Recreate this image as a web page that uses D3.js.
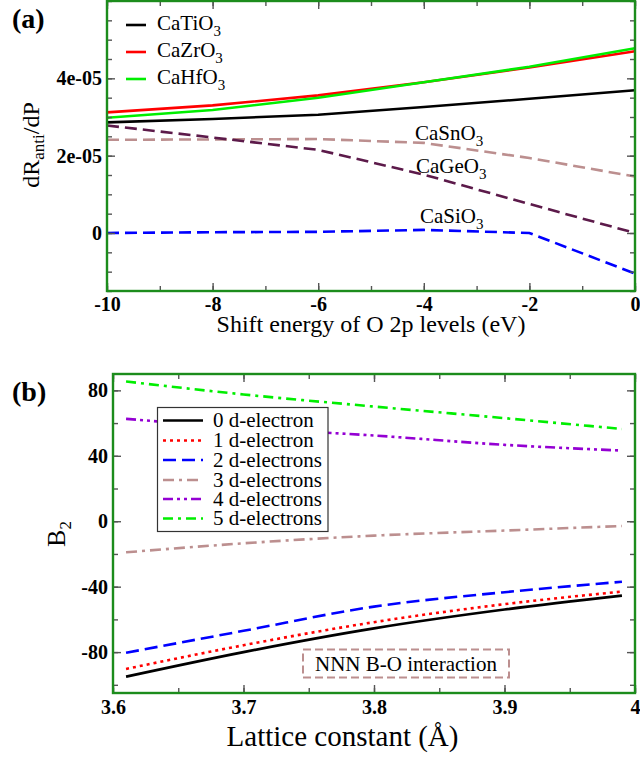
<!DOCTYPE html>
<html><head><meta charset="utf-8">
<script src="https://d3js.org/d3.v7.min.js"></script>
<style>body{margin:0;background:#fff}svg{display:block}</style>
</head><body><svg id="c" width="640" height="760"></svg>
<script>
// ---------- Panel (a) data ----------
const shiftEnergy = [-10, -8, -6, -4, -2, 0];
const caTiO3 = [2.86e-5, 2.95e-5, 3.06e-5, 3.26e-5, 3.47e-5, 3.69e-5];
const caZrO3 = [3.12e-5, 3.30e-5, 3.56e-5, 3.90e-5, 4.28e-5, 4.70e-5];
const caHfO3 = [2.98e-5, 3.18e-5, 3.50e-5, 3.90e-5, 4.30e-5, 4.78e-5];
const caSnO3 = [2.41e-5, 2.42e-5, 2.43e-5, 2.33e-5, 1.94e-5, 1.46e-5];
const caGeO3 = [2.78e-5, 2.47e-5, 2.15e-5, 1.51e-5, 0.75e-5, 0.0];
const caSiO3 = [0.0, 0.02e-5, 0.03e-5, 0.08e-5, 0.0, -1.05e-5];
const aXTicks = [-10, -8, -6, -4, -2, 0];
const aXTickLabels = ["-10", "-8", "-6", "-4", "-2", "0"];
const aYTicks = [0, 2e-5, 4e-5];
const aYTickLabels = ["0", "2e-05", "4e-05"];

// ---------- Panel (b) data ----------
const latticeConst = [3.61, 3.7, 3.8, 3.9, 3.99];
const dElec0 = [-95, -80, -65.5, -54, -45.5];
const dElec1 = [-90.3, -75.8, -61.7, -50.7, -43];
const dElec2 = [-80.4, -67, -52.2, -43.4, -37];
const dElec3 = [-19, -13.5, -8.8, -5.7, -2.9];
const dElec4 = [62.6, 57, 52.4, 46.7, 43.2];
const dElec5 = [85.4, 77.5, 70.1, 63, 56.4];
const bXTicks = [3.6, 3.7, 3.8, 3.9, 4.0];
const bXTickLabels = ["3.6", "3.7", "3.8", "3.9", "4"];
const bYTicks = [-80, -40, 0, 40, 80];
const bYTickLabels = ["-80", "-40", "0", "40", "80"];

const FONT = "Liberation Serif";
const svg = d3.select("#c");
const FRAME = "#1c8c1c";
const TICK = "#555";

function styleAxis(sel, labels) {
  sel.select(".domain").remove();
  sel.selectAll(".tick line").attr("stroke", TICK).attr("stroke-width", 1.4);
  sel.selectAll(".tick text").attr("fill", "#000").attr("font-size", 20)
     .attr("font-weight", "bold");
  if (!labels) sel.selectAll(".tick text").remove();
}

function frame(g, x, y, w, h, o) {
  const xm = x.ticks(o.xMinor), ym = y.ticks(o.yMinor);
  g.append("g").attr("transform", `translate(0,${h})`).call(d3.axisBottom(x).tickValues(xm).tickSize(-5)).call(s => styleAxis(s, false));
  g.append("g").call(d3.axisTop(x).tickValues(xm).tickSize(-5)).call(s => styleAxis(s, false));
  g.append("g").call(d3.axisLeft(y).tickValues(ym).tickSize(-5)).call(s => styleAxis(s, false));
  g.append("g").attr("transform", `translate(${w},0)`).call(d3.axisRight(y).tickValues(ym).tickSize(-5)).call(s => styleAxis(s, false));
  g.append("g").attr("transform", `translate(0,${h})`)
    .call(d3.axisBottom(x).tickValues(o.xt).tickFormat((d, i) => o.xl[i]).tickSize(-8).tickPadding(o.xpad))
    .call(s => styleAxis(s, true));
  g.append("g").call(d3.axisTop(x).tickValues(o.xt).tickSize(-8)).call(s => styleAxis(s, false));
  g.append("g")
    .call(d3.axisLeft(y).tickValues(o.yt).tickFormat((d, i) => o.yl[i]).tickSize(-8).tickPadding(o.ypad))
    .call(s => styleAxis(s, true));
  g.append("g").attr("transform", `translate(${w},0)`).call(d3.axisRight(y).tickValues(o.yt).tickSize(-8)).call(s => styleAxis(s, false));
  g.append("rect").attr("width", w).attr("height", h).attr("fill", "none")
    .attr("stroke", FRAME).attr("stroke-width", 2.4);
}

// ================= Panel (a) =================
const aL = 107, aT = 1, aW = 528, aH = 290;
const ga = svg.append("g").attr("transform", `translate(${aL},${aT})`);
const xa = d3.scaleLinear().domain([-10, 0]).range([0, aW]);
const ya = d3.scaleLinear().domain([-1.5e-5, 6e-5]).range([aH, 0]);

const seriesA = [
  { name: "CaSnO", vals: caSnO3, color: "#bc8f8f", dash: "12,6" },
  { name: "CaGeO", vals: caGeO3, color: "#5c1a4a", dash: "12,6" },
  { name: "CaSiO", vals: caSiO3, color: "#0000ff", dash: "12,6" },
  { name: "CaTiO", vals: caTiO3, color: "#000000", dash: null },
  { name: "CaZrO", vals: caZrO3, color: "#ff0000", dash: null },
  { name: "CaHfO", vals: caHfO3, color: "#00ee00", dash: null }
];
const lineA = d3.line().x((d, i) => xa(shiftEnergy[i])).y(d => ya(d));
const plotA = ga.append("g");
seriesA.forEach(s => {
  plotA.append("path").datum(s.vals).attr("d", lineA).attr("fill", "none")
    .attr("stroke", s.color).attr("stroke-width", 2.6)
    .attr("stroke-dasharray", s.dash);
});
frame(ga, xa, ya, aW, aH, { xt: aXTicks, xl: aXTickLabels, yt: aYTicks, yl: aYTickLabels, xMinor: 10, yMinor: 15, xpad: 6, ypad: 5 });

function chem(parent, x, y, base, sub, size, subSize, subDy) {
  const t = parent.append("text").attr("x", x).attr("y", y).attr("font-size", size).attr("fill", "#000");
  t.append("tspan").text(base);
  t.append("tspan").attr("font-size", subSize).attr("dy", subDy).text(sub);
  return t;
}
const legA = [seriesA[3], seriesA[4], seriesA[5]];
const legAY = [25, 52, 79];
legA.forEach((s, i) => {
  svg.append("line").attr("x1", 126).attr("x2", 146).attr("y1", legAY[i]).attr("y2", legAY[i])
    .attr("stroke", s.color).attr("stroke-width", 2.6);
  chem(svg, 157, legAY[i] + 5, s.name, "3", 21, 15, 6);
});
chem(svg, 415, 140, "CaSnO", "3", 21, 15, 6);
chem(svg, 416, 173, "CaGeO", "3", 21, 15, 6);
chem(svg, 420, 223, "CaSiO", "3", 21, 15, 6);

svg.append("text").attr("x", 371).attr("y", 332).attr("text-anchor", "middle").attr("font-size", 24)
  .text("Shift energy of O 2p levels (eV)");
const yta = svg.append("text").attr("transform", "translate(39,145) rotate(-90)").attr("text-anchor", "middle").attr("font-size", 24);
yta.append("tspan").text("dR");
yta.append("tspan").attr("font-size", 17).attr("dy", 5).text("anti");
yta.append("tspan").attr("dy", -5).text("/dP");
svg.append("text").attr("x", 12).attr("y", 28).attr("font-size", 28).attr("font-weight", "bold").text("(a)");

// ================= Panel (b) =================
const bL = 113, bT = 374, bW = 522, bH = 319;
const gb = svg.append("g").attr("transform", `translate(${bL},${bT})`);
const xb = d3.scaleLinear().domain([3.6, 4.0]).range([0, bW]);
const yb = d3.scaleLinear().domain([-105, 90]).range([bH, 0]);

const seriesB = [
  { label: "0 d-electron", vals: dElec0, color: "#000000", dash: null },
  { label: "1 d-electron", vals: dElec1, color: "#ff0000", dash: "3,4" },
  { label: "2 d-electrons", vals: dElec2, color: "#0000ff", dash: "13,6" },
  { label: "3 d-electrons", vals: dElec3, color: "#bc8f8f", dash: "11,5,3,5" },
  { label: "4 d-electrons", vals: dElec4, color: "#9400d3", dash: "10,4,3,4,3,4" },
  { label: "5 d-electrons", vals: dElec5, color: "#00ee00", dash: "10,5,3,5" }
];
const lineB = d3.line().curve(d3.curveMonotoneX).x((d, i) => xb(latticeConst[i])).y(d => yb(d));
const plotB = gb.append("g");
seriesB.slice().reverse().forEach(s => {
  plotB.append("path").datum(s.vals).attr("d", lineB).attr("fill", "none")
    .attr("stroke", s.color).attr("stroke-width", 2.6)
    .attr("stroke-dasharray", s.dash);
});
frame(gb, xb, yb, bW, bH, { xt: bXTicks, xl: bXTickLabels, yt: bYTicks, yl: bYTickLabels, xMinor: 8, yMinor: 10, xpad: 7, ypad: 5 });

svg.append("rect").attr("x", 157.5).attr("y", 407.5).attr("width", 170.5).attr("height", 124)
  .attr("fill", "#fff").attr("stroke", "#333").attr("stroke-width", 1.2);
const legBY = [420.5, 440.5, 460, 480, 499, 518.5];
seriesB.forEach((s, i) => {
  svg.append("line").attr("x1", 163).attr("x2", 203).attr("y1", legBY[i]).attr("y2", legBY[i])
    .attr("stroke", s.color).attr("stroke-width", 2.6).attr("stroke-dasharray", s.dash);
  svg.append("text").attr("x", 213).attr("y", legBY[i] + 6.5).attr("font-size", 21).text(s.label);
});

svg.append("rect").attr("x", 303).attr("y", 649.5).attr("width", 206).attr("height", 28)
  .attr("fill", "#fff").attr("stroke", "#bc8f8f").attr("stroke-width", 2).attr("stroke-dasharray", "8,4");
svg.append("text").attr("x", 315).attr("y", 670.5).attr("font-size", 21).text("NNN B-O interaction");

svg.append("text").attr("x", 342.5).attr("y", 746).attr("text-anchor", "middle").attr("font-size", 29)
  .text("Lattice constant (Å)");
const ytb = svg.append("text").attr("transform", "translate(65,534) rotate(-90)").attr("text-anchor", "middle").attr("font-size", 26);
ytb.append("tspan").text("B");
ytb.append("tspan").attr("font-size", 17).attr("dy", 6).text("2");
svg.append("text").attr("x", 12).attr("y", 401).attr("font-size", 28).attr("font-weight", "bold").text("(b)");

svg.selectAll("text").style("font-family", FONT);
</script></body></html>
